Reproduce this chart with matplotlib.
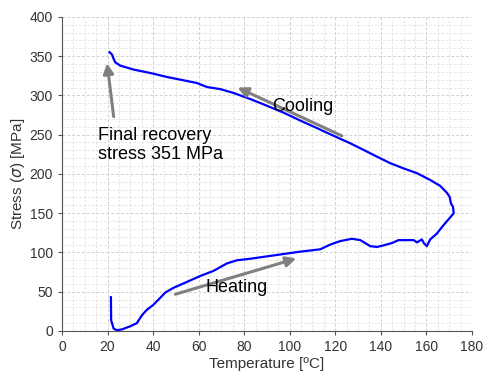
import numpy as np
import matplotlib.pyplot as plt
from matplotlib.ticker import MultipleLocator

plt.rcParams['font.family'] = ['Liberation Sans', 'DejaVu Sans']

# heating then cooling
temp = [21.5, 21.6, 22.7, 24.1, 26.3, 30.0, 32.9, 35.1, 37.3, 40.0, 42.4, 45.4,
        49.0, 54.9, 60.7, 66.6, 72.4, 76.8, 82.7, 90.0, 97.3, 104.6, 113.4,
        117.8, 122.2, 127.3, 131.0, 135.4, 138.3, 141.2, 144.9, 147.8, 154.4,
        155.9, 158.0, 159.0, 160.2, 161.7, 164.6, 167.6, 170.5, 172.0, 171.7,
        170.8, 170.2, 169.0, 166.1, 161.7, 155.9, 150.0, 144.2, 138.3, 132.4,
        126.6, 119.3, 112.0, 104.6, 97.3, 90.0, 82.7, 75.4, 69.5, 63.7, 59.3,
        52.0, 46.1, 38.8, 31.5, 25.6, 23.4, 22.7, 22.0, 20.9]
stress = [43, 13.6, 3, 1, 2, 6, 10, 20, 27, 33, 40, 49,
          55, 62.5, 70, 76.6, 86, 90, 92, 95, 98, 101, 104,
          110, 114.5, 117.4, 115.7, 108, 107, 109, 112, 115.7, 115.7,
          112.8, 116.6, 111.5, 108, 116.6, 124, 135, 144.7, 150, 158,
          162.5, 171, 176, 184.7, 192.3, 200.9, 207, 213.6, 222, 230.6,
          239, 248.5, 258.3, 268, 278, 286.8, 295.3, 303, 308, 310.6, 315.7,
          320, 323.4, 328.5, 332.8, 337.9, 342, 346.4, 352, 355]

fig = plt.figure(figsize=(4.84, 3.74), dpi=100)
ax = fig.add_axes([0.128, 0.115, 0.847, 0.84])

ax.plot(temp, stress, color='#0000ff', lw=1.6)

ax.set_xlim(0, 180)
ax.set_ylim(0, 400)
ax.xaxis.set_major_locator(MultipleLocator(20))
ax.xaxis.set_minor_locator(MultipleLocator(5))
ax.yaxis.set_major_locator(MultipleLocator(50))
ax.yaxis.set_minor_locator(MultipleLocator(10))
ax.grid(which='major', color='#d0d0d0', ls=(0, (3, 2)), lw=0.7)
ax.grid(which='minor', color='#e0e0e0', ls=(0, (3, 2)), lw=0.6)
ax.set_axisbelow(True)
for s in ['top', 'right']:
    ax.spines[s].set_visible(False)
for s in ['left', 'bottom']:
    ax.spines[s].set_color('#555555')
ax.tick_params(which='major', length=3, color='#555555', labelcolor='#333333',
               labelsize=10)
ax.tick_params(which='minor', length=0)

ax.set_xlabel('Temperature [ºC]', fontsize=11, color='#333333', labelpad=2)
ax.set_ylabel('Stress ($\\sigma$) [MPa]', fontsize=11, color='#333333', labelpad=2)

arrow = dict(arrowstyle='-|>,head_length=0.6,head_width=0.3', color='#808080',
             lw=2.2, shrinkA=0, shrinkB=0)
ax.annotate('', xy=(19.8, 341), xytext=(22.7, 273), arrowprops=arrow)
ax.annotate('', xy=(77.1, 310), xytext=(122.9, 248.5), arrowprops=arrow)
ax.annotate('', xy=(102.9, 92.3), xytext=(49.8, 46.8), arrowprops=arrow)

ax.text(92.2, 286, 'Cooling', fontsize=13, va='center', ha='left')
ax.text(63.2, 55, 'Heating', fontsize=13, va='center', ha='left')
ax.text(15.8, 237, 'Final recovery\nstress 351 MPa', fontsize=13, va='center',
        ha='left', linespacing=1.15)

fig.savefig('out.png', dpi=100)
